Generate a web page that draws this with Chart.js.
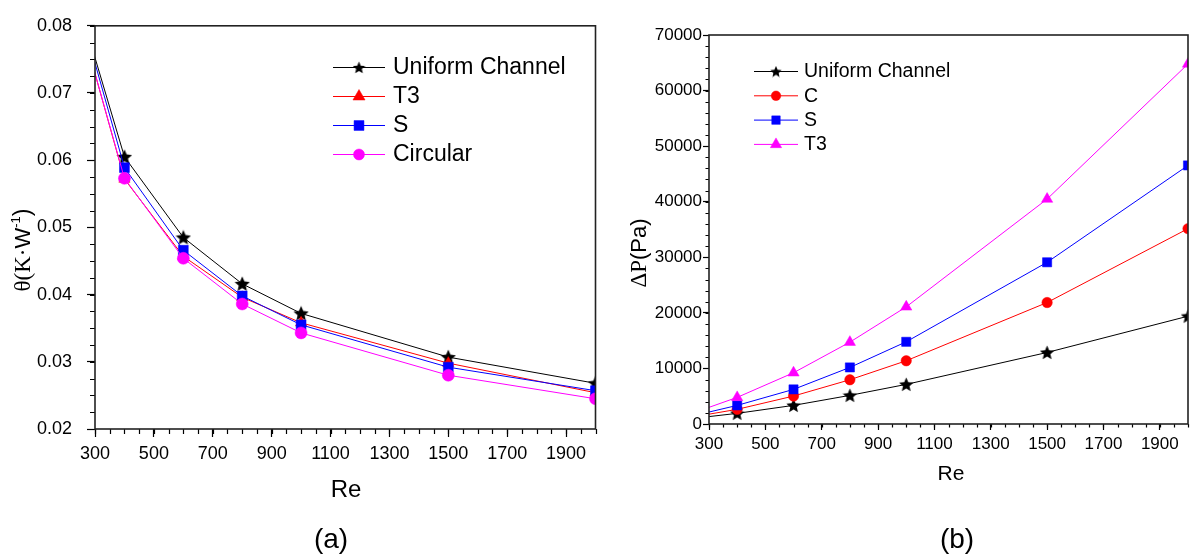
<!DOCTYPE html>
<html>
<head>
<meta charset="utf-8">
<script src="https://cdn.jsdelivr.net/npm/chart.js"></script>
<style>
  html, body { margin: 0; padding: 0; background: #fff; }
  body { width: 1195px; height: 559px; position: relative; overflow: hidden; }
  canvas { position: absolute; top: 0; }
  #chartA { left: 0; }
  #chartB { left: 600px; }
</style>
</head>
<body>
<canvas id="chartA" width="603" height="559"></canvas>
<canvas id="chartB" width="595" height="559"></canvas>
<script>
// Re values (the 200 point sits left of the axis and is clipped, only its line shows)
const reValues = [200, 400, 600, 800, 1000, 1500, 2000];

// (a) thermal resistance
const thetaUniform = [0.0900, 0.0605, 0.0485, 0.0416, 0.0372, 0.0307, 0.0268];
const thetaT3 = [0.0886, 0.0572, 0.0457, 0.0396, 0.0358, 0.0298, 0.0254];
const thetaS = [0.0900, 0.0589, 0.0466, 0.0398, 0.0355, 0.0292, 0.0257];
const thetaCircular = [0.0885, 0.0573, 0.0454, 0.0386, 0.0343, 0.0280, 0.0245];

// (b) pressure drop
const dpUniform = [750, 1916, 3350, 5150, 7130, 12870, 19400];
const dpC = [900, 2640, 5030, 7960, 11380, 21860, 35150];
const dpS = [950, 3350, 6230, 10180, 14790, 29100, 46530];
const dpT3 = [1200, 4790, 9220, 14730, 21080, 40480, 64790];

// tick labels
const reTicks = [300, 500, 700, 900, 1100, 1300, 1500, 1700, 1900];
const thetaTicks = [0.02, 0.03, 0.04, 0.05, 0.06, 0.07, 0.08];
const dpTicks = [0, 10000, 20000, 30000, 40000, 50000, 60000, 70000];

const sans = '"Liberation Sans", Arial, Helvetica, sans-serif';
const serif = '"Liberation Serif", "Times New Roman", serif';
Chart.defaults.font.family = sans;
Chart.defaults.color = '#000';

// filled five point star, used as an image point style
function starImage(size, color) {
  const c = document.createElement('canvas');
  c.width = c.height = size;
  const g = c.getContext('2d');
  const R = size / 2, r = R * 0.46;
  g.fillStyle = color;
  g.beginPath();
  for (let i = 0; i < 10; i++) {
    const a = -Math.PI / 2 + i * Math.PI / 5;
    const rad = i % 2 ? r : R;
    g.lineTo(R + rad * Math.cos(a), R + 0.6 + rad * Math.sin(a));
  }
  g.closePath();
  g.fill();
  return c;
}

function series(label, values, color, style, radius, order) {
  return {
    label: label,
    data: reValues.map((x, i) => ({ x: x, y: values[i] })),
    borderColor: color,
    backgroundColor: color,
    borderWidth: 1,
    pointStyle: style,
    pointRadius: radius,
    pointBackgroundColor: color,
    pointBorderColor: color,
    pointBorderWidth: 0.5,
    tension: 0,
    clip: 0,
    order: order
  };
}

// draws text made of pieces with different fonts, centred on (cx, cy)
function richText(ctx, parts, cx, cy, rotate) {
  ctx.save();
  ctx.translate(cx, cy);
  if (rotate) ctx.rotate(-Math.PI / 2);
  let total = 0;
  parts.forEach(p => { ctx.font = p.font; p.w = ctx.measureText(p.text).width; total += p.w; });
  let x = -total / 2;
  ctx.fillStyle = '#000';
  ctx.textBaseline = 'middle';
  ctx.textAlign = 'left';
  parts.forEach(p => {
    ctx.font = p.font;
    ctx.fillText(p.text, x, p.dy || 0);
    x += p.w;
  });
  ctx.restore();
}

function decorations(cfg) {
  return {
    id: 'decorations',
    afterDraw(chart) {
      const ctx = chart.ctx;
      const area = chart.chartArea;
      const xs = chart.scales.x, ys = chart.scales.y;

      // minor ticks
      ctx.save();
      ctx.strokeStyle = '#000';
      ctx.lineWidth = 1.2;
      ctx.beginPath();
      for (let v = xs.min; v <= xs.max + 1e-9; v += cfg.xMinor) {
        const px = Math.round(xs.getPixelForValue(v)) + 0.5;
        ctx.moveTo(px, area.bottom);
        ctx.lineTo(px, area.bottom + cfg.minorLen);
      }
      for (let v = ys.min; v <= ys.max + 1e-9; v += cfg.yMinor) {
        const py = Math.round(ys.getPixelForValue(v)) + 0.5;
        ctx.moveTo(area.left, py);
        ctx.lineTo(area.left - cfg.minorLen, py);
      }
      ctx.stroke();

      // frame
      ctx.strokeStyle = '#222';
      ctx.lineWidth = 1.6;
      ctx.strokeRect(area.left, area.top, area.right - area.left, area.bottom - area.top);
      ctx.restore();

      // legend
      const lg = cfg.legend;
      ctx.save();
      chart.data.datasets.forEach((ds, i) => {
        const y = lg.y0 + i * lg.dy;
        ctx.strokeStyle = ds.borderColor;
        ctx.lineWidth = 1;
        ctx.beginPath();
        ctx.moveTo(lg.x1, y + 0.5);
        ctx.lineTo(lg.x2, y + 0.5);
        ctx.stroke();
        ctx.fillStyle = ds.pointBackgroundColor;
        ctx.strokeStyle = ds.pointBorderColor;
        ctx.lineWidth = 0.5;
        Chart.helpers.drawPoint(ctx, {
          pointStyle: lg.markers[i].style,
          radius: lg.markers[i].radius,
          rotation: 0,
          borderWidth: 0.5
        }, (lg.x1 + lg.x2) / 2, y + 0.5);
        ctx.fillStyle = '#000';
        ctx.font = lg.size + 'px ' + sans;
        ctx.textBaseline = 'middle';
        ctx.textAlign = 'left';
        ctx.fillText(ds.label, lg.tx, y + 1);
      });
      ctx.restore();

      // axis titles and panel label
      richText(ctx, [{ text: 'Re', font: cfg.reSize + 'px ' + sans }], cfg.reX, cfg.reY, false);
      richText(ctx, cfg.yTitle, cfg.yTitleX, cfg.yTitleY, true);
      richText(ctx, [{ text: cfg.panel, font: '28px ' + sans }], cfg.panelX, cfg.panelY, false);
    }
  };
}

function axes(o) {
  return {
    x: {
      type: 'linear', min: 300, max: 2000,
      afterBuildTicks: s => { s.ticks = reTicks.map(v => ({ value: v })); },
      afterFit: s => { s.height = o.xHeight; },
      border: { display: false },
      grid: { drawOnChartArea: false, color: '#000', tickLength: o.majorLen, tickWidth: 1.2 },
      ticks: { font: { size: o.tickSize }, padding: o.xPad, maxRotation: 0, autoSkip: false, color: '#000',
        callback: v => String(v) }
    },
    y: {
      type: 'linear', min: o.yMin, max: o.yMax,
      afterBuildTicks: s => { s.ticks = o.yTicks.map(v => ({ value: v })); },
      afterFit: s => { s.width = o.yWidth; },
      border: { display: false },
      grid: { drawOnChartArea: false, color: '#000', tickLength: o.majorLen, tickWidth: 1.2 },
      ticks: { font: { size: o.tickSize }, padding: o.yPad, autoSkip: false, color: '#000', callback: o.fmt }
    }
  };
}

new Chart(document.getElementById('chartA'), {
  type: 'line',
  data: {
    datasets: [
      series('Uniform Channel', thetaUniform, '#000000', starImage(16, '#000000'), 6, 4),
      series('T3', thetaT3, '#ff0000', 'triangle', 6.5, 3),
      series('S', thetaS, '#0000ff', 'rect', 7, 2),
      series('Circular', thetaCircular, '#ff00ff', 'circle', 6, 1)
    ]
  },
  options: {
    responsive: false,
    animation: false,
    layout: { padding: { top: 23.5, right: 3, bottom: 0, left: 0 } },
    plugins: { legend: { display: false }, tooltip: { enabled: false } },
    scales: axes({
      xHeight: 130, yWidth: 95, majorLen: 8, tickSize: 18, xPad: 6, yPad: 15,
      yMin: 0.02, yMax: 0.08, yTicks: thetaTicks, fmt: v => v.toFixed(2)
    })
  },
  plugins: [decorations({
    xMinor: 50, yMinor: 0.0025, minorLen: 5,
    legend: {
      x1: 333, x2: 385, tx: 393, y0: 67, dy: 29, size: 23,
      markers: [
        { style: starImage(13, '#000000'), radius: 5 },
        { style: 'triangle', radius: 7 },
        { style: 'rect', radius: 7 },
        { style: 'circle', radius: 5.5 }
      ]
    },
    reX: 346, reY: 490, reSize: 24,
    panel: '(a)', panelX: 331, panelY: 540,
    yTitleX: 24, yTitleY: 250,
    yTitle: [
      { text: 'θ(K·', font: '23px ' + serif },
      { text: 'W', font: '22px ' + sans },
      { text: '-1', font: '13px ' + sans, dy: -8 },
      { text: ')', font: '23px ' + sans }
    ]
  })]
});

new Chart(document.getElementById('chartB'), {
  type: 'line',
  data: {
    datasets: [
      series('Uniform Channel', dpUniform, '#000000', starImage(15, '#000000'), 6, 4),
      series('C', dpC, '#ff0000', 'circle', 5.2, 3),
      series('S', dpS, '#0000ff', 'rect', 6.5, 2),
      series('T3', dpT3, '#ff00ff', 'triangle', 6.5, 1)
    ]
  },
  options: {
    responsive: false,
    animation: false,
    layout: { padding: { top: 35, right: 3, bottom: 0, left: 0 } },
    plugins: { legend: { display: false }, tooltip: { enabled: false } },
    scales: axes({
      xHeight: 135, yWidth: 109, majorLen: 6, tickSize: 17, xPad: 4, yPad: 1,
      yMin: 0, yMax: 70000, yTicks: dpTicks, fmt: v => String(v)
    })
  },
  plugins: [decorations({
    xMinor: 50, yMinor: 2000, minorLen: 3.5,
    legend: {
      x1: 154, x2: 198, tx: 204, y0: 71, dy: 24.3, size: 19.5,
      markers: [
        { style: starImage(12, '#000000'), radius: 5 },
        { style: 'circle', radius: 4.8 },
        { style: 'rect', radius: 6 },
        { style: 'triangle', radius: 6.5 }
      ]
    },
    reX: 351, reY: 474, reSize: 21,
    panel: '(b)', panelX: 357, panelY: 540,
    yTitleX: 40, yTitleY: 253,
    yTitle: [
      { text: 'ΔP', font: '23px ' + serif },
      { text: '(Pa)', font: '22px ' + sans }
    ]
  })]
});
</script>
</body>
</html>
